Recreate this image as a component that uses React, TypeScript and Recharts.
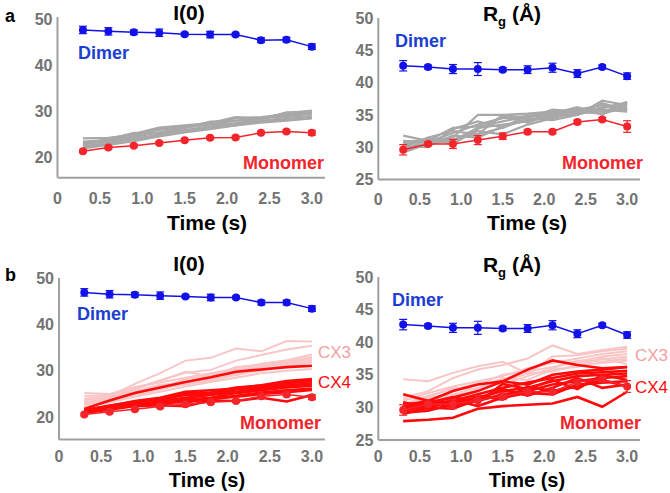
import React from "react";
import { LineChart, Line, XAxis, YAxis, ErrorBar } from "recharts";

const FONT = '"Liberation Sans", Arial, sans-serif';

const times = [0.3, 0.6, 0.9, 1.2, 1.5, 1.8, 2.1, 2.4, 2.7, 3.0];
const xTicks = [0, 0.5, 1, 1.5, 2, 2.5, 3];
const i0Ticks = [20, 30, 40, 50];
const rgTicks = [25, 30, 35, 40, 45, 50];

// panel a, I(0)
const dimerI0A = [47.6, 47.3, 47.1, 47.0, 46.7, 46.6, 46.6, 45.4, 45.5, 44.0];
const dimerI0AErr = [0.8, 0.8, 0.5, 0.8, 0.3, 0.7, 0.3, 0.5, 0.5, 0.6];
const monomerI0A = [21.4, 22.2, 22.6, 23.2, 23.8, 24.3, 24.4, 25.4, 25.7, 25.4];
const monomerI0AErr = [0.3, 0.3, 0.3, 0.3, 0.3, 0.3, 0.3, 0.3, 0.3, 0.5];
const grayI0A = [
   [24.2, 24.3, 25.0, 26.0, 26.8, 27.3, 28.0, 28.5, 29.5, 30.0],
   [23.5, 23.8, 25.2, 26.5, 27.0, 27.5, 28.8, 28.5, 29.0, 29.5],
   [23.0, 23.5, 24.5, 25.5, 26.5, 27.2, 27.5, 28.3, 29.8, 30.0],
   [22.5, 23.2, 24.0, 25.0, 26.0, 26.8, 27.3, 28.0, 28.6, 29.0],
   [22.2, 23.0, 24.2, 24.8, 25.8, 26.5, 27.0, 27.8, 28.2, 28.6],
   [22.8, 23.9, 24.8, 26.2, 26.7, 27.4, 28.5, 28.8, 29.3, 29.8],
   [22.0, 22.8, 23.6, 24.6, 25.5, 26.2, 27.0, 27.6, 28.0, 28.5],
   [23.2, 24.0, 25.4, 25.2, 26.4, 27.8, 28.0, 28.6, 29.6, 30.2],
];

// panel a, Rg
const dimerRgA = [42.6, 42.4, 42.1, 42.1, 42.0, 42.0, 42.3, 41.4, 42.4, 41.0];
const dimerRgAErr = [0.8, 0.3, 0.7, 1.0, 0.3, 0.6, 0.7, 0.6, 0.3, 0.5];
const monomerRgA = [29.6, 30.5, 30.5, 31.1, 31.7, 32.4, 32.4, 33.9, 34.3, 33.2];
const monomerRgAErr = [0.8, 0.3, 0.7, 0.7, 0.5, 0.3, 0.3, 0.3, 0.3, 0.9];
const grayRgA = [
   [30.5, 31.0, 31.5, 35.0, 35.0, 35.2, 35.5, 35.8, 35.5, 36.0],
   [31.8, 31.0, 33.0, 33.2, 34.0, 34.8, 35.2, 35.0, 37.2, 36.5],
   [29.5, 30.8, 31.2, 32.0, 35.0, 34.5, 35.8, 35.5, 36.0, 37.0],
   [30.0, 31.5, 32.5, 32.0, 33.0, 35.0, 34.5, 36.0, 35.8, 35.5],
   [29.2, 30.5, 31.0, 33.0, 33.5, 34.0, 34.8, 35.0, 36.2, 36.8],
   [30.8, 31.2, 31.0, 32.5, 32.0, 33.5, 34.5, 35.5, 35.2, 36.2],
   [29.8, 30.2, 31.8, 31.5, 33.2, 34.2, 35.0, 35.8, 36.5, 35.8],
   [31.0, 30.8, 32.2, 33.5, 34.5, 34.8, 35.5, 35.2, 35.6, 36.5],
   [29.5, 31.3, 30.5, 32.8, 34.8, 33.8, 35.2, 36.2, 35.0, 37.0],
   [30.2, 30.0, 32.8, 34.0, 33.0, 34.5, 34.2, 35.0, 36.8, 35.7],
];

// panel b, I(0)
const dimerI0B = [46.9, 46.5, 46.4, 46.2, 46.0, 45.8, 45.8, 44.7, 44.7, 43.4];
const dimerI0BErr = [0.8, 0.8, 0.5, 0.8, 0.3, 0.7, 0.3, 0.5, 0.5, 0.6];
const monomerI0B = [20.6, 21.2, 21.7, 22.3, 22.8, 23.2, 23.5, 24.5, 24.9, 24.3];
const monomerI0BErr = [0.3, 0.3, 0.3, 0.3, 0.3, 0.3, 0.3, 0.3, 0.3, 0.5];
const cx3I0B = [
   [23.0, 24.6, 27.2, 29.5, 32.2, 32.8, 34.8, 34.2, 36.4, 36.3],
   [22.6, 24.2, 26.2, 28.0, 29.6, 30.2, 32.2, 33.4, 34.6, 35.4],
   [25.2, 25.0, 26.5, 27.5, 28.5, 29.5, 30.5, 31.5, 32.3, 33.5],
   [24.5, 24.8, 26.0, 27.8, 29.8, 28.8, 30.8, 31.3, 32.0, 33.0],
   [23.8, 24.0, 25.5, 26.8, 27.6, 28.6, 29.8, 30.8, 31.6, 32.6],
   [23.2, 23.8, 25.0, 26.5, 27.0, 28.2, 29.5, 30.2, 31.2, 32.2],
   [22.8, 23.5, 24.6, 26.0, 27.2, 27.8, 29.2, 30.0, 31.0, 31.8],
   [24.0, 24.5, 25.6, 27.0, 27.4, 29.0, 29.0, 30.5, 30.8, 31.0],
   [22.2, 23.2, 24.4, 25.5, 26.6, 27.6, 28.5, 29.5, 30.0, 30.4],
   [23.5, 23.2, 25.2, 26.4, 28.2, 29.2, 30.2, 31.0, 31.8, 32.8],
];
const cx4I0B = [
   [21.8, 23.6, 25.2, 26.4, 27.6, 28.6, 29.8, 30.3, 30.8, 31.1],
   [21.5, 22.5, 23.3, 24.0, 25.2, 25.3, 26.4, 26.8, 27.5, 28.0],
   [21.2, 22.2, 23.0, 23.8, 24.8, 25.0, 26.0, 26.5, 27.2, 27.8],
   [21.0, 22.0, 22.8, 23.5, 24.2, 24.8, 25.5, 26.2, 26.8, 27.3],
   [21.3, 21.8, 22.6, 23.0, 23.8, 24.2, 25.2, 25.8, 26.4, 26.8],
   [20.9, 21.6, 22.4, 22.6, 22.4, 23.6, 23.5, 24.2, 23.4, 24.8],
   [21.4, 22.3, 23.2, 23.4, 23.2, 24.0, 24.4, 25.0, 25.4, 25.9],
   [21.6, 22.4, 23.5, 24.2, 25.5, 25.8, 26.2, 26.9, 27.8, 28.2],
   [21.1, 21.9, 22.7, 22.9, 23.4, 23.9, 24.6, 25.3, 25.8, 26.2],
];

// panel b, Rg
const dimerRgB = [42.7, 42.5, 42.2, 42.2, 42.1, 42.1, 42.6, 41.3, 42.6, 41.1];
const dimerRgBErr = [0.8, 0.3, 0.7, 1.0, 0.3, 0.6, 0.7, 0.6, 0.3, 0.5];
const monomerRgB = [29.6, 30.5, 30.5, 31.1, 31.7, 32.4, 32.4, 33.9, 34.3, 33.2];
const monomerRgBErr = [0.8, 0.3, 0.7, 0.7, 0.5, 0.3, 0.3, 0.3, 0.3, 0.9];
const cx3RgB = [
   [34.3, 34.0, 35.3, 36.3, 37.0, 35.2, 37.8, 38.0, 38.6, 39.0],
   [31.5, 32.5, 34.5, 35.8, 36.5, 37.5, 39.5, 38.2, 38.8, 39.3],
   [31.0, 32.2, 33.2, 34.0, 34.8, 36.0, 36.8, 37.5, 38.2, 38.6],
   [30.5, 31.8, 32.8, 33.5, 35.0, 35.5, 36.2, 37.0, 37.8, 38.2],
   [30.2, 31.5, 32.0, 33.0, 34.2, 35.8, 37.0, 36.8, 37.4, 37.8],
   [30.8, 31.0, 32.5, 33.8, 33.5, 34.8, 36.0, 37.2, 37.0, 37.5],
   [29.8, 31.2, 31.8, 32.6, 34.0, 35.2, 35.5, 36.5, 36.8, 37.2],
   [31.2, 31.6, 33.0, 32.8, 34.5, 34.2, 35.8, 36.2, 37.6, 36.6],
];
const cx4RgB = [
   [27.9, 28.1, 28.4, 29.8, 30.2, 30.4, 30.6, 31.6, 30.1, 32.4],
   [32.0, 31.0, 32.5, 33.5, 34.0, 35.8, 37.2, 36.5, 36.0, 36.2],
   [30.5, 30.8, 31.5, 32.5, 34.0, 33.5, 35.0, 35.5, 35.8, 36.2],
   [30.0, 30.5, 31.0, 32.0, 33.0, 33.8, 34.5, 35.2, 35.4, 35.6],
   [29.5, 30.2, 30.8, 31.5, 32.5, 33.0, 34.0, 34.8, 35.0, 35.2],
   [29.2, 29.5, 30.5, 31.0, 32.0, 32.5, 33.5, 34.0, 34.5, 34.8],
   [30.8, 29.8, 31.2, 30.2, 31.5, 32.2, 32.0, 33.5, 33.8, 34.0],
   [29.0, 30.0, 29.8, 31.2, 32.8, 31.8, 33.0, 34.5, 33.0, 33.5],
   [30.2, 31.0, 30.0, 31.8, 31.2, 33.2, 32.5, 33.2, 34.2, 33.2],
   [29.6, 30.6, 31.6, 30.8, 33.6, 32.8, 34.2, 32.8, 35.0, 34.2],
];

const BLUE = "#1212e8";
const BLUE_TEXT = "#1c3fd2";
const RED = "#f4242b";
const RED_LINE = "#ff0a0a";
const PINK = "#f8c6c6";
const PINK_TEXT = "#f2a0a2";
const GRAY = "#a8a8a8";
const AXIS = "#a0a0a0";
const TICK = "#737373";

interface SeriesDef {
   key: string;
   values: number[];
   err?: number[];
   color: string;
   width: number;
   dot?: boolean;
}

function buildRows(series: SeriesDef[]) {
   return times.map(function (t, i) {
      const row: Record<string, number> = { t };
      series.forEach(function (s) {
         row[s.key] = s.values[i];
         if (s.err) row[s.key + "Err"] = s.err[i];
      });
      return row;
   });
}

function bundle(prefix: string, arrs: number[][], color: string, width: number): SeriesDef[] {
   return arrs.map(function (values, i) {
      return { key: prefix + i, values, color, width };
   });
}

const Y_W = 40;
const X_H = 30;

const Panel: React.FC<{
   box: [number, number, number, number];
   plot: [number, number, number, number];
   yDomain: [number, number];
   yTicks: number[];
   series: SeriesDef[];
   xGap: number;
}> = function ({ box, plot, yDomain, yTicks, series, xGap }) {
   const [bl, bt, bw, bh] = box;
   const [x0, y0, x1, y1] = plot;
   const data = buildRows(series);
   const tickStyle = { fill: TICK, fontSize: 16, fontWeight: 700, fontFamily: FONT };
   return (
      <div style={{ position: "absolute", left: bl, top: bt }}>
         <LineChart
            width={bw}
            height={bh}
            data={data}
            margin={{
               top: y0 - bt,
               left: x0 - bl - Y_W,
               right: bl + bw - x1,
               bottom: bt + bh - y1 - X_H,
            }}
         >
            <XAxis
               dataKey="t"
               type="number"
               domain={[0, 3.155]}
               ticks={xTicks}
               allowDataOverflow
               tickFormatter={(v: number) => (v === 0 ? "0" : v.toFixed(1))}
               tickLine={false}
               tickSize={0}
               tickMargin={xGap}
               height={X_H}
               axisLine={{ stroke: AXIS, strokeWidth: 2 }}
               tick={tickStyle}
            />
            <YAxis
               type="number"
               domain={yDomain}
               ticks={yTicks}
               allowDataOverflow
               tickLine={false}
               tickSize={0}
               tickMargin={5}
               width={Y_W}
               axisLine={{ stroke: AXIS, strokeWidth: 2 }}
               tick={tickStyle}
            />
            {series.map(function (s) {
               return (
                  <Line
                     key={s.key}
                     dataKey={s.key}
                     stroke={s.color}
                     strokeWidth={s.width}
                     isAnimationActive={false}
                     dot={s.dot ? { r: 4, fill: s.color, stroke: s.color, strokeWidth: 0 } : false}
                     activeDot={false}
                  >
                     {s.err ? (
                        <ErrorBar
                           dataKey={s.key + "Err"}
                           width={4}
                           strokeWidth={1.2}
                           stroke={s.color}
                           direction="y"
                        />
                     ) : null}
                  </Line>
               );
            })}
         </LineChart>
      </div>
   );
};

const Txt: React.FC<{
   x: number;
   y: number;
   size: number;
   color: string;
   bold?: boolean;
   center?: boolean;
   children: React.ReactNode;
}> = function ({ x, y, size, color, bold = true, center, children }) {
   return (
      <div
         style={{
            position: "absolute",
            left: x,
            top: y,
            transform: center ? "translate(-50%, -50%)" : "translateY(-50%)",
            fontFamily: FONT,
            fontSize: size,
            fontWeight: bold ? 700 : 400,
            color,
            lineHeight: 1,
            whiteSpace: "nowrap",
         }}
      >
         {children}
      </div>
   );
};

const RgTitle = function () {
   return (
      <span>
         R<sub style={{ fontSize: 13, verticalAlign: -5 }}>g</sub> (Å)
      </span>
   );
};

export default function App() {
   const seriesA1: SeriesDef[] = [
      ...bundle("g", grayI0A, GRAY, 2.2),
      { key: "mon", values: monomerI0A, err: monomerI0AErr, color: RED, width: 1.5, dot: true },
      { key: "dim", values: dimerI0A, err: dimerI0AErr, color: BLUE, width: 1.5, dot: true },
   ];
   const seriesA2: SeriesDef[] = [
      ...bundle("g", grayRgA, GRAY, 2.2),
      { key: "mon", values: monomerRgA, err: monomerRgAErr, color: RED, width: 1.5, dot: true },
      { key: "dim", values: dimerRgA, err: dimerRgAErr, color: BLUE, width: 1.5, dot: true },
   ];
   const seriesB1: SeriesDef[] = [
      ...bundle("p", cx3I0B, PINK, 2),
      ...bundle("r", cx4I0B, RED_LINE, 2.6),
      { key: "mon", values: monomerI0B, err: monomerI0BErr, color: RED, width: 1.5, dot: true },
      { key: "dim", values: dimerI0B, err: dimerI0BErr, color: BLUE, width: 1.5, dot: true },
   ];
   const seriesB2: SeriesDef[] = [
      ...bundle("p", cx3RgB, PINK, 2),
      ...bundle("r", cx4RgB, RED_LINE, 2.6),
      { key: "mon", values: monomerRgB, err: monomerRgBErr, color: RED, width: 1.5, dot: true },
      { key: "dim", values: dimerRgB, err: dimerRgBErr, color: BLUE, width: 1.5, dot: true },
   ];

   return (
      <div
         style={{
            position: "absolute",
            left: 0,
            top: 0,
            width: 670,
            height: 493,
            background: "#fff",
            overflow: "hidden",
         }}
      >
         <Panel box={[0, 0, 335, 240]} plot={[57.5, 17, 325, 177.7]} yDomain={[15.7, 50.4]} yTicks={i0Ticks} series={seriesA1} xGap={15} />
         <Panel box={[335, 0, 335, 240]} plot={[378.3, 18, 640, 179.5]} yDomain={[25, 50]} yTicks={rgTicks} series={seriesA2} xGap={14} />
         <Panel box={[0, 250, 335, 243]} plot={[59, 278, 325, 439.5]} yDomain={[15.2, 50]} yTicks={i0Ticks} series={seriesB1} xGap={11} />
         <Panel box={[335, 250, 335, 243]} plot={[378.3, 277, 640, 440]} yDomain={[25, 50]} yTicks={rgTicks} series={seriesB2} xGap={11} />

         <Txt x={5} y={16} size={18} color="#000">a</Txt>
         <Txt x={5} y={275} size={18} color="#000">b</Txt>

         <Txt x={189} y={12} size={21} color="#000" center>I(0)</Txt>
         <Txt x={512} y={15} size={21} color="#000" center><RgTitle /></Txt>
         <Txt x={189} y={263} size={21} color="#000" center>I(0)</Txt>
         <Txt x={512} y={266} size={21} color="#000" center><RgTitle /></Txt>

         <Txt x={207} y={222} size={21} color="#000" center>Time (s)</Txt>
         <Txt x={527} y={222} size={21} color="#000" center>Time (s)</Txt>
         <Txt x={207} y={480} size={20} color="#000" center>Time (s)</Txt>
         <Txt x={527} y={480} size={20} color="#000" center>Time (s)</Txt>

         <Txt x={78} y={53} size={18} color={BLUE_TEXT}>Dimer</Txt>
         <Txt x={243} y={163} size={18} color={RED}>Monomer</Txt>
         <Txt x={395} y={41} size={18} color={BLUE_TEXT}>Dimer</Txt>
         <Txt x={562} y={163} size={18} color={RED}>Monomer</Txt>

         <Txt x={77} y={314} size={18} color={BLUE_TEXT}>Dimer</Txt>
         <Txt x={240} y={423} size={18} color={RED}>Monomer</Txt>
         <Txt x={318} y={352} size={17} color={PINK_TEXT} bold={false}>CX3</Txt>
         <Txt x={318} y={382} size={17} color={RED_LINE} bold={false}>CX4</Txt>

         <Txt x={392} y={300} size={18} color={BLUE_TEXT}>Dimer</Txt>
         <Txt x={560} y={423} size={18} color={RED}>Monomer</Txt>
         <Txt x={635} y={355} size={17} color={PINK_TEXT} bold={false}>CX3</Txt>
         <Txt x={635} y={387} size={17} color={RED_LINE} bold={false}>CX4</Txt>
      </div>
   );
}
